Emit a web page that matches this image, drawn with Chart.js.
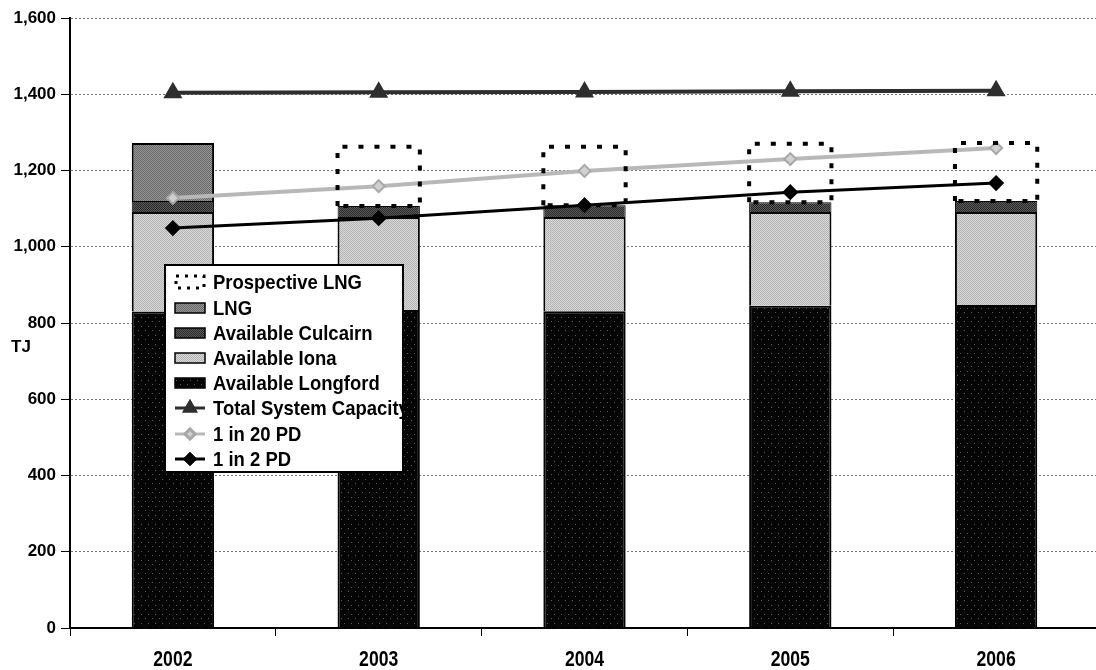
<!DOCTYPE html>
<html>
<head>
<meta charset="utf-8">
<script src="https://cdn.jsdelivr.net/npm/chart.js@4/dist/chart.umd.min.js"></script>
<style>
  html, body { margin: 0; padding: 0; background: #fff; overflow: hidden; width: 1096px; height: 670px; }
  #wrap { position: relative; width: 1110px; height: 670px; }
  canvas { display: block; }
</style>
</head>
<body>
<div id="wrap"><canvas id="c" width="1110" height="670"></canvas></div>
<script>
// Peak-day supply capacity vs. demand, TJ
const years = ['2002', '2003', '2004', '2005', '2006'];
const longford = [830, 834, 831, 845, 847];
const iona = [261, 244, 247, 246, 244];
const culcairn = [29, 29, 31, 26, 29];
const lng = [152, null, null, null, null];
const prospectiveLng = [null, 155, 153, 153, 152];
const totalCapacity = [1404, 1405, 1406, 1408, 1409];
const pd1in20 = [1128, 1159, 1199, 1230, 1259];
const pd1in2 = [1049, 1075, 1109, 1143, 1167];
const yMin = 0, yMax = 1600, yStep = 200;

const SANS = '"Liberation Sans", Arial, sans-serif';

// draw bold text horizontally condensed by `squeeze`
function narrowText(ctx, text, x, y, size, align, squeeze) {
  ctx.save();
  ctx.font = 'bold ' + size + 'px ' + SANS;
  ctx.textBaseline = 'middle';
  ctx.textAlign = align;
  ctx.translate(x, y);
  ctx.scale(squeeze, 1);
  ctx.fillText(text, 0, 0);
  ctx.restore();
}

// small stipple patterns for the bar fills
function stipple(a, b, period) {
  const cv = document.createElement('canvas');
  cv.width = period; cv.height = period;
  const g = cv.getContext('2d');
  g.fillStyle = a; g.fillRect(0, 0, period, period);
  g.fillStyle = b;
  for (let y = 0; y < period; y++) {
    for (let x = 0; x < period; x++) {
      if ((x + y) % 2 === 0) g.fillRect(x, y, 1, 1);
    }
  }
  return g.createPattern(cv, 'repeat');
}
function speckle(base, dot) {
  const cv = document.createElement('canvas');
  cv.width = 7; cv.height = 9;
  const g = cv.getContext('2d');
  g.fillStyle = base; g.fillRect(0, 0, 7, 9);
  g.fillStyle = dot;
  g.fillRect(1, 2, 1, 1); g.fillRect(5, 6, 1, 1);
  return g.createPattern(cv, 'repeat');
}
const fillLongford = speckle('#050505', '#5a5a5a');
const fillIona = stipple('#d8d8d8', '#b4b4b4', 2);
const fillCulcairn = stipple('#5a5a5a', '#2a2a2a', 2);
const fillLng = stipple('#959595', '#6a6a6a', 2);

const barCommon = { type: 'bar', categoryPercentage: 1, barPercentage: 0.4, order: 2, borderColor: '#000' };

const datasets = [
  Object.assign({}, barCommon, { label: 'Available Longford', data: longford,
    backgroundColor: fillLongford, borderWidth: 2 }),
  Object.assign({}, barCommon, { label: 'Available Iona', data: iona,
    backgroundColor: fillIona, borderWidth: 2 }),
  Object.assign({}, barCommon, { label: 'Available Culcairn', data: culcairn,
    backgroundColor: fillCulcairn, borderWidth: 1 }),
  Object.assign({}, barCommon, { label: 'LNG', data: lng,
    backgroundColor: fillLng, borderWidth: 2 }),
  Object.assign({}, barCommon, { label: 'Prospective LNG', data: prospectiveLng,
    backgroundColor: 'rgba(0,0,0,0)', borderWidth: 0 }),
  { type: 'line', label: 'Total System Capacity', data: totalCapacity, stack: 'tsc',
    borderColor: '#2e2e2e', borderWidth: 4, pointStyle: 'triangle', pointRadius: 7,
    pointBackgroundColor: '#2e2e2e', pointBorderColor: '#2e2e2e', order: 0 },
  { type: 'line', label: '1 in 20 PD', data: pd1in20, stack: 'pd20',
    borderColor: '#b8b8b8', borderWidth: 4, pointStyle: 'rectRot', pointRadius: 6,
    pointBackgroundColor: '#d0d0d0', pointBorderColor: '#a8a8a8', pointBorderWidth: 2, order: 0 },
  { type: 'line', label: '1 in 2 PD', data: pd1in2, stack: 'pd2',
    borderColor: '#000', borderWidth: 3, pointStyle: 'rectRot', pointRadius: 6,
    pointBackgroundColor: '#000', pointBorderColor: '#000', order: 0 }
];

// dashed outline for the prospective LNG stack segment
const prospectiveOutline = {
  id: 'prospectiveOutline',
  afterDatasetsDraw(chart) {
    const idx = chart.data.datasets.findIndex(d => d.label === 'Prospective LNG');
    const meta = chart.getDatasetMeta(idx);
    const ctx = chart.ctx;
    ctx.save();
    ctx.strokeStyle = '#000';
    ctx.lineWidth = 4;
    ctx.setLineDash([5, 11]);
    meta.data.forEach((el, i) => {
      if (prospectiveLng[i] == null) return;
      const p = el.getProps(['x', 'y', 'base', 'width'], true);
      const l = p.x - p.width / 2, r = p.x + p.width / 2;
      ctx.beginPath();
      ctx.moveTo(l, p.base); ctx.lineTo(l, p.y); ctx.lineTo(r, p.y); ctx.lineTo(r, p.base); ctx.lineTo(l, p.base);
      ctx.stroke();
    });
    ctx.restore();
  }
};

// category labels in a condensed bold face, plus the unit label
const axisText = {
  id: 'axisText',
  afterDraw(chart) {
    const ctx = chart.ctx;
    const xs = chart.scales.x;
    ctx.save();
    ctx.fillStyle = '#000';
    years.forEach((yr, i) => {
      narrowText(ctx, yr, xs.getPixelForValue(i), 660, 22, 'center', 0.8);
    });
    ctx.font = 'bold 17px ' + SANS;
    ctx.textBaseline = 'middle';
    ctx.textAlign = 'left';
    ctx.fillText('TJ', 11, 347);
    ctx.restore();
  }
};

// boxed legend floating over the left of the plot
const boxLegend = {
  id: 'boxLegend',
  afterDraw(chart) {
    const ctx = chart.ctx;
    const bx = 165, by = 265, bw = 238, bh = 207;
    const order = ['Prospective LNG', 'LNG', 'Available Culcairn', 'Available Iona',
                   'Available Longford', 'Total System Capacity', '1 in 20 PD', '1 in 2 PD'];
    const rows = [282, 308, 333, 358, 383, 408, 434, 459];
    ctx.save();
    ctx.fillStyle = '#fff';
    ctx.fillRect(bx, by, bw, bh);
    ctx.beginPath();
    ctx.rect(bx, by, bw, bh);
    ctx.clip();
    order.forEach((name, k) => {
      const ds = chart.data.datasets.find(d => d.label === name);
      const cy = rows[k];
      const sx = 175, sw = 30;
      if (name === 'Prospective LNG') {
        ctx.save();
        ctx.strokeStyle = '#000';
        ctx.lineWidth = 3;
        ctx.setLineDash([3, 6]);
        ctx.strokeRect(sx + 1, cy - 6, sw - 2, 12);
        ctx.restore();
      } else if (ds.type === 'bar') {
        ctx.fillStyle = ds.backgroundColor;
        ctx.fillRect(sx, cy - 5, sw, 10);
        ctx.strokeStyle = '#000';
        ctx.lineWidth = 1.5;
        ctx.strokeRect(sx, cy - 5, sw, 10);
      } else {
        ctx.strokeStyle = ds.borderColor;
        ctx.lineWidth = 3;
        ctx.beginPath();
        ctx.moveTo(sx, cy); ctx.lineTo(sx + sw, cy);
        ctx.stroke();
        Chart.helpers.drawPoint(ctx, {
          pointStyle: ds.pointStyle, radius: ds.pointRadius - 1, rotation: 0,
          borderWidth: ds.pointBorderWidth || 1
        }, sx + sw / 2, cy);
        ctx.fillStyle = ds.pointBackgroundColor;
        ctx.strokeStyle = ds.pointBorderColor;
        ctx.fill();
        ctx.stroke();
      }
      ctx.fillStyle = '#000';
      narrowText(ctx, name, 213, cy + 1, 21, 'left', 0.88);
    });
    ctx.restore();
    ctx.save();
    ctx.strokeStyle = '#000';
    ctx.lineWidth = 2;
    ctx.strokeRect(bx, by, bw, bh);
    ctx.restore();
  }
};

new Chart(document.getElementById('c'), {
  data: { labels: years, datasets: datasets },
  options: {
    responsive: false,
    animation: false,
    layout: { padding: { top: 18, right: 5, left: 0, bottom: 0 } },
    plugins: { legend: { display: false }, tooltip: { enabled: false } },
    scales: {
      x: {
        stacked: true,
        offset: true,
        grid: { display: true, drawOnChartArea: false, drawTicks: true, tickLength: 8,
                color: '#000', lineWidth: 1, offset: true },
        border: { display: true, color: '#000', width: 2 },
        ticks: { display: false },
        afterFit(scale) { scale.height = 42; }
      },
      y: {
        stacked: true,
        min: yMin, max: yMax,
        grid: { color: '#777', lineWidth: 1, tickColor: '#000', tickLength: 9, drawTicks: true },
        border: { display: true, color: '#000', width: 2, dash: [2, 2] },
        ticks: {
          stepSize: yStep, color: '#000', padding: 5,
          font: { family: SANS, weight: 'bold', size: 17 },
          callback: v => v.toLocaleString('en-US')
        },
        afterFit(scale) { scale.width = 70; }
      }
    }
  },
  plugins: [prospectiveOutline, axisText, boxLegend]
});
</script>
</body>
</html>
